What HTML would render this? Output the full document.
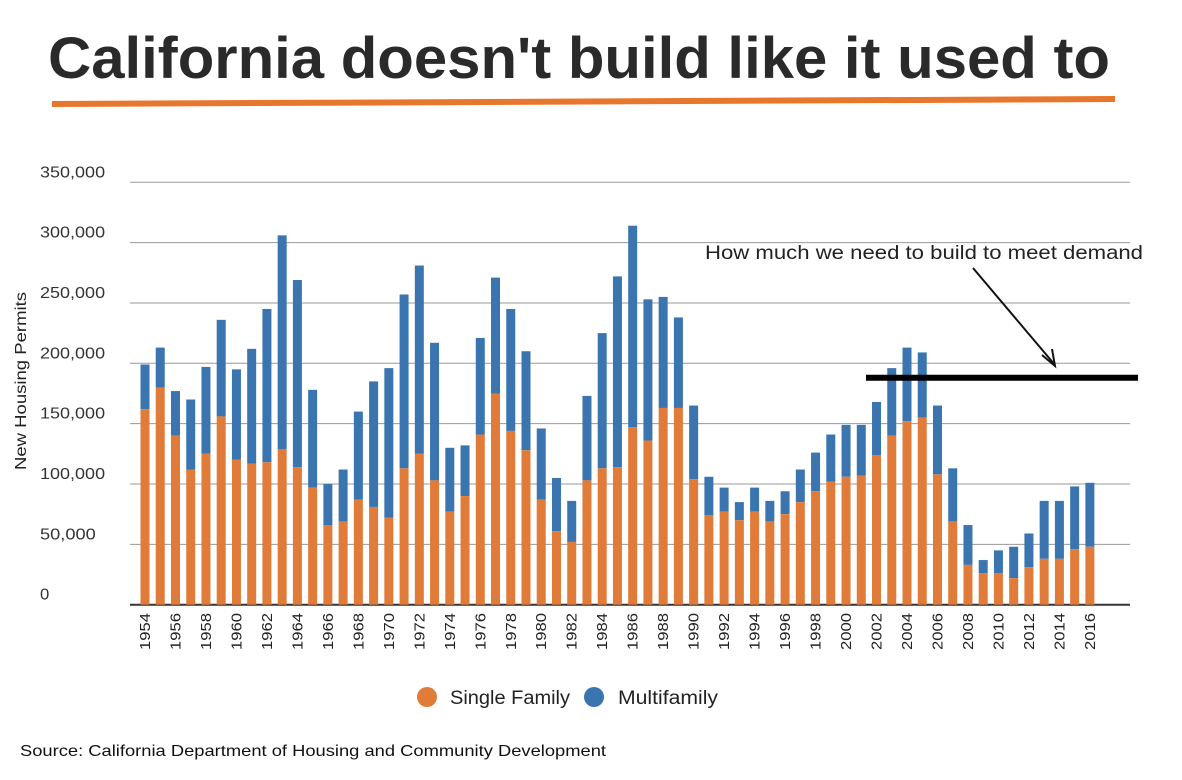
<!DOCTYPE html>
<html><head><meta charset="utf-8"><style>
body{margin:0;background:#fff;}
svg{display:block;font-family:"Liberation Sans",Arial,sans-serif;}
</style></head><body>
<svg id="chart" width="1182" height="780" viewBox="0 0 1182 780">
<text x="48" y="78" font-size="58" font-weight="bold" fill="#2a2a2a" textLength="1062" lengthAdjust="spacingAndGlyphs">California doesn't build like it used to</text>
<polygon points="52,101 1115,96 1115,102 52,107" fill="#e8762d"/>
<g id="grid"></g>
<g id="bars"></g>
<g id="xlabels"></g>
<text transform="translate(26,381) rotate(-90)" text-anchor="middle" font-size="16" fill="#222" textLength="178" lengthAdjust="spacingAndGlyphs">New Housing Permits</text>
<text x="705" y="259" font-size="19" fill="#222" textLength="438" lengthAdjust="spacingAndGlyphs">How much we need to build to meet demand</text>
<line x1="973" y1="268" x2="1055" y2="365" stroke="#111" stroke-width="2"/>
<polyline points="1042,355 1055,366 1052,349" fill="none" stroke="#111" stroke-width="2"/>
<line id="demand" x1="866" x2="1138" stroke="#000" stroke-width="6"/>
<g>
<circle cx="427" cy="697" r="10" fill="#e07b39"/>
<text x="450" y="704" font-size="19" fill="#222" textLength="120" lengthAdjust="spacingAndGlyphs">Single Family</text>
<circle cx="594" cy="697" r="10" fill="#3a75b0"/>
<text x="618" y="704" font-size="19" fill="#222" textLength="100" lengthAdjust="spacingAndGlyphs">Multifamily</text>
</g>
<text x="20" y="756" font-size="16" fill="#111" textLength="586" lengthAdjust="spacingAndGlyphs">Source: California Department of Housing and Community Development</text>
</svg>
<script>
const years=[];for(let y=1954;y<=2016;y++)years.push(y);
const singleFamily=[162,180,140,112,125,156,120,117,118,129,114,97,66,69,87,81,72,113,125,103,77,90,141,175,144,128,87,61,52,103,113,114,147,136,163,163,104,74,77,70,77,69,75,85,94,102,106,107,124,140,152,155,108,69,33,26,26,22,31,38,38,46,48];
const totalPermits=[199,213,177,170,197,236,195,212,245,306,269,178,100,112,160,185,196,257,281,217,130,132,221,271,245,210,146,105,86,173,225,272,314,253,255,238,165,106,97,85,97,86,94,112,126,141,149,149,168,196,213,209,165,113,66,37,45,48,59,86,86,98,101];
const yTicks=[0,50000,100000,150000,200000,250000,300000,350000];
const demandLevel=[188];
const NS='http://www.w3.org/2000/svg';
const y0=604.7,pxPerK=60.35/50;
const yScale=v=>y0-v*pxPerK;
const xScale=i=>145+i*15.24;
const bw=9;
function mk(t,a,p){const e=document.createElementNS(NS,t);for(const k in a)e.setAttribute(k,a[k]);p.appendChild(e);return e;}
const grid=document.getElementById('grid');
yTicks.forEach(t=>{
 const y=yScale(t/1000);
 if(t>0){const l=mk('line',{x1:130,x2:1130,y1:y,y2:y,stroke:'#9a9a9a','stroke-width':1},grid);
 
 }
 const s=t.toLocaleString('en-US');
 const tx=mk('text',{x:40,y:y-5,'font-size':16,fill:'#333',textLength:s.length*9.3,lengthAdjust:'spacingAndGlyphs'},grid);
 tx.textContent=s;
 
 
});
const bars=document.getElementById('bars');
years.forEach((yr,i)=>{
 const x=xScale(i)-bw/2;
 const sf=singleFamily[i],tot=totalPermits[i];
 const b=mk('rect',{x:x,y:yScale(tot),width:bw,height:yScale(sf)-yScale(tot),fill:'#3a75b0'},bars);
 
 
 const a=mk('rect',{x:x,y:yScale(sf),width:bw,height:y0-yScale(sf),fill:'#e07b39'},bars);
 
 
});
const ax=mk('line',{x1:130,x2:1130,y1:y0,y2:y0,stroke:'#333','stroke-width':2},grid);


const xl=document.getElementById('xlabels');
years.forEach((yr,i)=>{
 if(i%2)return;
 const x=xScale(i)+5;
 const t=mk('text',{transform:`translate(${x},613) rotate(-90)`,'text-anchor':'end','font-size':15,fill:'#222',textLength:37,lengthAdjust:'spacingAndGlyphs'},xl);
 t.textContent=yr;
 
 
});
const d=document.getElementById('demand');
d.setAttribute('y1',yScale(demandLevel[0]));d.setAttribute('y2',yScale(demandLevel[0]));
</script>
</body></html>
